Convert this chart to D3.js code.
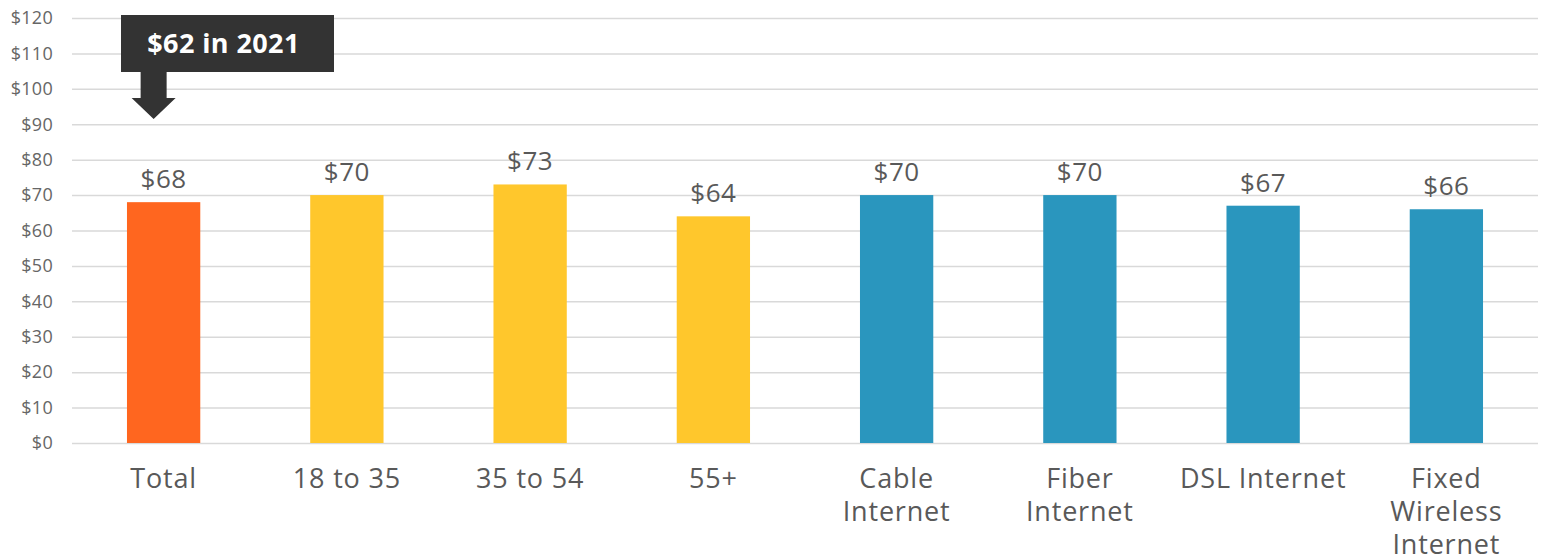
<!DOCTYPE html>
<html>
<head>
<meta charset="utf-8">
<script src="https://cdn.jsdelivr.net/npm/d3@7"></script>
<style>
  body { margin: 0; background: #fff; }
  svg { display: block; font-family: "Open Sans", "Noto Sans", sans-serif; }
</style>
</head>
<body>
<svg id="chart" width="1548" height="559"></svg>
<script>
// Average monthly internet spend by group
const categories = ["Total", "18 to 35", "35 to 54", "55+", "Cable Internet", "Fiber Internet", "DSL Internet", "Fixed Wireless Internet"];
const categoryLines = [["Total"], ["18 to 35"], ["35 to 54"], ["55+"], ["Cable", "Internet"], ["Fiber", "Internet"], ["DSL Internet"], ["Fixed", "Wireless", "Internet"]];
const values = [68, 70, 73, 64, 70, 70, 67, 66];
const groups = ["total", "age", "age", "age", "type", "type", "type", "type"];
const yTicks = [0, 10, 20, 30, 40, 50, 60, 70, 80, 90, 100, 110, 120];
const calloutText = "$62 in 2021";

const colors = { total: "#FF661F", age: "#FFC72C", type: "#2A96BE" };

const svg = d3.select("#chart");
const margin = { left: 72, right: 10, top: 18, bottom: 116 };
const W = 1548, H = 559;

const x = d3.scaleBand()
  .domain(categories)
  .range([margin.left, W - margin.right])
  .paddingInner(0.6)
  .paddingOuter(0.3);

const y = d3.scaleLinear()
  .domain([0, 120])
  .range([H - margin.bottom, margin.top]);

// gridlines + y labels
const yAxis = d3.axisLeft(y)
  .tickValues(yTicks)
  .tickSize(-(W - margin.right - margin.left))
  .tickPadding(19)
  .tickFormat(d => "$" + d);

const gy = svg.append("g")
  .attr("transform", `translate(${margin.left},0)`)
  .call(yAxis)
  .attr("font-family", null)
  .attr("font-size", null);
gy.select(".domain").remove();
gy.selectAll(".tick line").attr("stroke", "#d9d9d9").attr("stroke-width", 1.5);
gy.selectAll(".tick text")
  .attr("fill", "#666")
  .attr("font-size", 18)
  .attr("letter-spacing", 0.3)
  .attr("text-anchor", "end");

// bars
svg.append("g").selectAll("rect")
  .data(categories)
  .join("rect")
  .attr("x", d => x(d))
  .attr("width", x.bandwidth())
  .attr("y", (d, i) => y(values[i]))
  .attr("height", (d, i) => y(0) - y(values[i]))
  .attr("fill", (d, i) => colors[groups[i]]);

// value labels
svg.append("g").selectAll("text")
  .data(categories)
  .join("text")
  .attr("x", d => x(d) + x.bandwidth() / 2)
  .attr("y", (d, i) => y(values[i]) - 14)
  .attr("text-anchor", "middle")
  .attr("fill", "#595959")
  .attr("font-size", 26)
  .attr("letter-spacing", 0.6)
  .text((d, i) => "$" + values[i]);

// category labels
const xl = svg.append("g");
categories.forEach((c, i) => {
  const t = xl.append("text")
    .attr("x", x(c) + x.bandwidth() / 2)
    .attr("y", y(0) + 45)
    .attr("text-anchor", "middle")
    .attr("fill", "#595959")
    .attr("font-size", 27)
    .attr("letter-spacing", 0.8);
  categoryLines[i].forEach((line, k) => {
    t.append("tspan")
      .attr("x", x(c) + x.bandwidth() / 2)
      .attr("dy", k === 0 ? 0 : 33)
      .text(line);
  });
});

// callout box with arrow pointing at the Total bar
const cx = x("Total") + x.bandwidth() / 2 - 10;
const callout = svg.append("g");
callout.append("rect")
  .attr("x", 121).attr("y", 15)
  .attr("width", 213).attr("height", 57)
  .attr("fill", "#333333");
callout.append("text")
  .attr("x", 121 + 213 / 2 - 4).attr("y", 53)
  .attr("text-anchor", "middle")
  .attr("fill", "#fff")
  .attr("font-weight", 700)
  .attr("font-size", 27)
  .attr("letter-spacing", 0.4)
  .text(calloutText);
callout.append("path")
  .attr("d", `M${cx - 13},72 L${cx + 13},72 L${cx + 13},98 L${cx + 22},98 L${cx},119 L${cx - 22},98 L${cx - 13},98 Z`)
  .attr("fill", "#333333");
</script>
</body>
</html>
